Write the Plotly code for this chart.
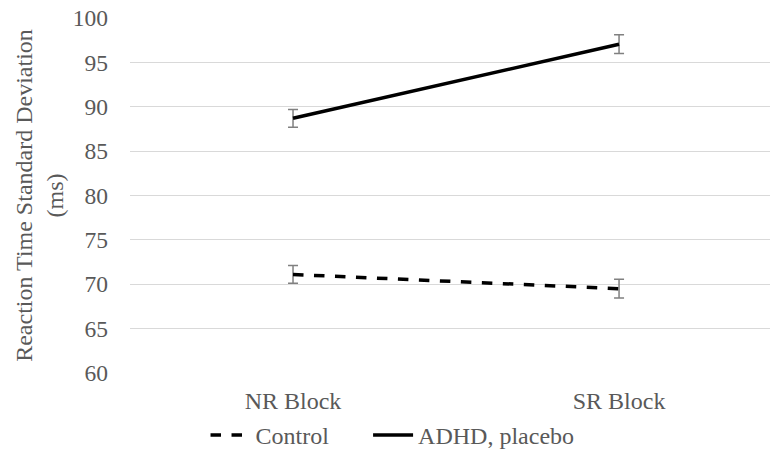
import plotly.graph_objects as go

categories = ["NR Block", "SR Block"]
control = [71.1, 69.5]
control_err = [1.0, 1.05]
adhd = [88.7, 97.05]
adhd_err = [1.0, 1.05]
y_ticks = [60, 65, 70, 75, 80, 85, 90, 95, 100]

xpos = list(range(len(categories)))
font_family = "'Times New Roman', 'Liberation Serif', 'DejaVu Serif', serif"
gray = "#595959"

fig = go.Figure()
fig.add_trace(go.Scatter(
    x=xpos, y=control, name="Control", mode="lines", legend="legend",
    line=dict(color="black", width=3.5, dash="dash"),
    error_y=dict(type="data", array=control_err, visible=True, color="#808080", thickness=1.5, width=5),
))
fig.add_trace(go.Scatter(
    x=xpos, y=adhd, name="ADHD, placebo", mode="lines", legend="legend2",
    line=dict(color="black", width=3.5),
    error_y=dict(type="data", array=adhd_err, visible=True, color="#808080", thickness=1.5, width=5),
))

leg_common = dict(orientation="h", y=-0.176, yanchor="middle", xanchor="left",
                  itemwidth=40, font=dict(family=font_family, size=24, color=gray))

fig.update_layout(
    width=770, height=451,
    margin=dict(l=130, r=0, t=18, b=78, autoexpand=False),
    paper_bgcolor="white", plot_bgcolor="white",
    font=dict(family=font_family, size=24, color=gray),
    showlegend=True,
    legend=dict(x=0.118, **leg_common),
    legend2=dict(x=0.372, **leg_common),
    xaxis=dict(range=[-0.5, 1.463], tickmode="array", tickvals=xpos, ticktext=categories,
               showgrid=False, zeroline=False, showline=False, ticks="", ticklabelstandoff=11,
               tickfont=dict(size=24)),
    yaxis=dict(range=[60, 100], tickmode="array", tickvals=y_ticks, showgrid=True,
               gridcolor="#d9d9d9", gridwidth=1, zeroline=False, showline=False, ticks="",
               ticklabelstandoff=21, tickfont=dict(size=23.5),
               title=dict(text="Reaction Time Standard Deviation<br>(ms)", standoff=2,
                          font=dict(family=font_family, size=24, color=gray))),
)

fig.write_html("out.html", config={"displayModeBar": False},
               post_script="document.body.style.margin='0';")
